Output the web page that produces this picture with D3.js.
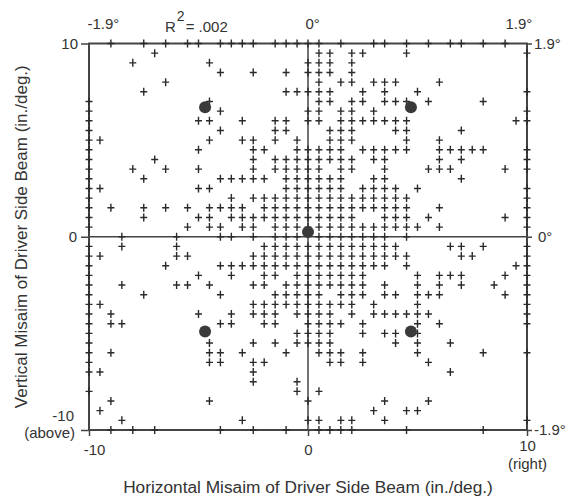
<!DOCTYPE html>
<html><head><meta charset="utf-8">
<script src="https://cdn.jsdelivr.net/npm/d3@7"></script>
<style>body{margin:0;background:#fff}svg{display:block}text{font-family:"Liberation Sans",Arial,Helvetica,sans-serif;fill:#333}</style>
</head><body>
<svg id="c" width="578" height="500"></svg>
<script>
// ---- DATA (inches; rows at Y, list of X) ----
const upperLeftRows = [
  [9.5,[-7]],[9,[-8,-4.5]],[8.5,[-4,-2.5,-1]],[8,[-6.5]],[7.5,[-7.5,-1,-0.5]],[7,[-4.5]],[6.5,[-4]],
  [6,[-5,-4.5,-3,-1.5,-1]],[5.5,[-4,-1.5,-1]],[5,[-9.5,-4.5,-3,-2.5,-1.5,-0.5]],[4.5,[-5,-2.5,-2,-0.5]],
  [4,[-7,-2.5,-1.5,-1,-0.5]],[3.5,[-8,-6.5,-5,-2.5,-1.5,-1,-0.5]],[3,[-7.5,-4,-3.5,-3,-2.5,-2,-1,-0.5]],
  [2.5,[-9.5,-5,-4.5,-1,-0.5]],[2,[-3.5,-2.5,-2,-1.5,-1,-0.5]],
  [1.5,[-9,-7.5,-6.5,-5.5,-4.5,-4,-3.5,-3,-2,-1.5,-1,-0.5]],[1,[-7.5,-5,-4.5,-3.5,-3,-2.5,-2,-1.5,-1,-0.5]],
  [0.5,[-5.5,-4.5,-4,-3,-2.5,-1.5,-1,-0.5]]
];
const upperRightRows = [
  [9.5,[0.5,1,2,2.5,4.5]],[9,[0.5,1,2]],[8.5,[0.5,1,2]],[8,[0.5,1.5,2,3,3.5,4,6]],[7.5,[0.5,1,2.5,3.5,5]],
  [7,[0.5,1,2,2.5,3.5,4,4.5,5.5,8]],[6.5,[0.5,1.5,2,3]],[6,[0.5,1.5,2,2.5,3,3.5,4,4.5,9.5]],
  [5.5,[1,1.5,2,4,4.5,7]],[5,[1,1.5,2,4.5,6]],[4.5,[0.5,1,1.5,2.5,3,3.5,4,4.5,6,6.5,7,7.5,8]],
  [4,[0.5,1,1.5,2,3,3.5,6,7]],[3.5,[0.5,1.5,2,3.5,5.5,6,6.5,9]],[3,[0.5,1,1.5,3,3.5,7]],
  [2.5,[0.5,1,1.5,2.5,3,3.5,4,5]],[2,[0.5,1,1.5,2,2.5,3,3.5,4,4.5]],[1.5,[0.5,1,1.5,2,2.5,3,3.5,4,4.5,6]],
  [1,[0.5,1,1.5,2,3.5,4,4.5,5.5,9]],[0.5,[0.5,1,1.5,2,2.5,3,3.5,4,4.5,5,6]]
];
const lowerLeftRows = [
  [-0.5,[-8.5,-6,-2,-1.5,-1,-0.5]],[-1,[-9.5,-6,-5.5,-2.5,-2,-1.5,-1,-0.5]],
  [-1.5,[-6.5,-4,-3.5,-3,-2.5,-2,-1.5,-1,-0.5]],[-2,[-5,-3.5,-2,-1.5,-0.5]],
  [-2.5,[-8.5,-6,-5.5,-4.5,-2.5,-2,-1,-0.5]],[-3,[-7.5,-4,-1.5,-1,-0.5]],[-3.5,[-9.5,-2.5,-2,-1.5,-1,-0.5]],
  [-4,[-9,-5,-3.5,-2.5,-2,-1.5,-0.5]],[-4.5,[-9,-8.5,-4,-3.5,-2,-1.5]],[-5,[-0.5]],
  [-5.5,[-4.5,-2.5,-1.5,-0.5]],[-6,[-9,-4.5,-4,-3,-1]],[-6.5,[-4.5,-4,-2.5,-2]],[-7,[-9.5,-2.5]],
  [-7.5,[-2.5,-0.5]],[-8,[-0.5]],[-8.5,[-9,-4.5]],[-9,[-9.5]],[-9.5,[-8.5,-3]]
];
const lowerRightRows = [
  [-0.5,[0.5,1,1.5,2,2.5,3,3.5,4,6.5,7,8]],[-1,[0.5,1,1.5,2,2.5,3,3.5,4,4.5,7,7.5]],
  [-1.5,[0.5,1,1.5,2,2.5,3,3.5,4.5,9.5]],[-2,[0.5,1,1.5,2,2.5,5,6,6.5,7,9]],
  [-2.5,[0.5,1,1.5,2,2.5,3.5,5,6,7,8.5]],[-3,[0.5,1.5,2,2.5,3.5,4,5,5.5,6,9]],[-3.5,[0.5,1,1.5,2,3,5]],
  [-4,[0.5,1,2,3,3.5,4,4.5,5,5.5]],[-4.5,[0.5,1,1.5,2.5,5,6]],[-5,[0.5,1,2.5,3.5,4,5]],
  [-5.5,[0.5,1,4,5,6.5]],[-6,[0.5,1,1.5,2.5,5,8]],[-6.5,[1,1.5,2.5,5.5]],[-7,[6.5]],[-8,[0.5]],
  [-8.5,[3.5,5.5]],[-9,[3,4.5,5]],[-9.5,[0.5,1.5,2,3.5]]
];
const onHorizontalZeroX = [-8.5,-6,-4,-3.5,-2.5,-1.5,-1,-0.5,0.5,1,1.5,2,2.5,3,3.5,4.5];
const onVerticalZeroY = [9,8.5,7.5,6.5,6,4.5,4,3.5,3,2.5,2,1.5,1,0.5,-0.5,-1,-1.5,-2,-2.5,-3,-3.5,-4,-4.5,-5,-5.5,-8.5,-9.5];
const onTopEdgeX = [-9,-7.5,-6.5,-5.5,-5,-4,-3.5,-3,-2.5,-1.5,-1,-0.5,0,0.5,1.5,3,3.5,4.5,5.5,6.5,7,8,9];
const onBottomEdgeX = [-9,-8,-7,-4,-2.5,-1,0.5,1,1.5,2,4.5,8];
const onLeftEdgeY = [7,6.5,6,5.5,5,4.5,4,3.5,3,2.5,2,1.5,1,0.5,-0.5,-1,-1.5,-2,-2.5,-3,-3.5,-4,-4.5,-5,-5.5,-6,-6.5,-7,-8];
const onRightEdgeY = [9.5,7.5,6.5,6,4.5,4,3.5,2.5,2,1.5,1,0.5,-0.5,-1,-1.5,-2,-2.5,-3,-3.5,-4,-4.5,-6,-9.5];
const aimDots = [[-4.7,6.7],[4.7,6.7],[-4.7,-4.9],[4.7,-4.9],[0,0.25]];
const leftTicks = [10,0,-10];
const bottomTicks = [-10,0,10];
const degTicks = [-1.9,0,1.9];
const rSquared = ".002";

// ---- CHART ----
const svg = d3.select("#c");
const x = d3.scaleLinear().domain([-10,10]).range([89,527]);
const y = d3.scaleLinear().domain([-10,10]).range([430,43.5]);
const xDeg = d3.scaleLinear().domain([-1.9,1.9]).range([89,527]);
const yDeg = d3.scaleLinear().domain([-1.9,1.9]).range([430,43.5]);
const ink = "#444";
const FS = "15px";

const pts = [];
[upperLeftRows,upperRightRows,lowerLeftRows,lowerRightRows].forEach(rows=>rows.forEach(([yy,xs])=>xs.forEach(xx=>pts.push([xx,yy]))));
onHorizontalZeroX.forEach(v=>pts.push([v,0]));
onVerticalZeroY.forEach(v=>pts.push([0,v]));
onTopEdgeX.forEach(v=>pts.push([v,10]));
onBottomEdgeX.forEach(v=>pts.push([v,-10]));
onLeftEdgeY.forEach(v=>pts.push([-10,v]));
onRightEdgeY.forEach(v=>pts.push([10,v]));

// frame
svg.append("rect").attr("x",x(-10)).attr("y",y(10)).attr("width",x(10)-x(-10)).attr("height",y(-10)-y(10))
  .attr("fill","none").attr("stroke",ink).attr("stroke-width",2);
svg.append("line").attr("x1",x(-10)).attr("x2",x(10)).attr("y1",y(0)).attr("y2",y(0)).attr("stroke",ink).attr("stroke-width",1.5);
svg.append("line").attr("x1",x(0)).attr("x2",x(0)).attr("y1",y(10)).attr("y2",y(-10)).attr("stroke",ink).attr("stroke-width",1.5);

function styleAxis(g){g.select(".domain").remove();g.selectAll(".tick line").attr("stroke",ink).attr("stroke-width",1.5);
  g.selectAll(".tick text").style("font-family",'"Liberation Sans",Arial,sans-serif').attr("fill","#333").style("font-size",FS);}

// left axis
const gl = svg.append("g").attr("transform",`translate(${x(-10)},0)`)
  .call(d3.axisLeft(y).tickValues(leftTicks).tickSize(8).tickPadding(3).tickFormat(d=>d)).call(styleAxis);
gl.selectAll(".tick").filter(d=>d===-10).select("text").attr("dy",null).attr("y",-10).attr("x",-15);
gl.selectAll(".tick").filter(d=>d===-10).append("text").attr("x",-14).attr("y",7).attr("text-anchor","end")
  .style("font-size",FS).attr("fill","#333").text("(above)");
gl.selectAll(".tick").filter(d=>d===0).select("text").attr("x",-12);
gl.selectAll(".tick").filter(d=>d===10).select("text").attr("x",-11);
// bottom axis
const gb = svg.append("g").attr("transform",`translate(0,${y(-10)})`)
  .call(d3.axisBottom(x).tickValues(bottomTicks).tickSize(6).tickPadding(8).tickFormat(d=>d)).call(styleAxis);
gb.selectAll(".tick").filter(d=>d===-10).select("text").attr("dx","5");
gb.selectAll(".tick").filter(d=>d===10).select("text").attr("y",10);
gb.selectAll(".tick").filter(d=>d===10).append("text").attr("y",39).attr("text-anchor","middle")
  .style("font-size",FS).attr("fill","#333").text("(right)");
// right axis (degrees)
const gr = svg.append("g").attr("transform",`translate(${x(10)},0)`)
  .call(d3.axisRight(yDeg).tickValues(degTicks).tickSize(5).tickPadding(2).tickFormat(d=>(d===0?"0":d)+"°")).call(styleAxis);
gr.selectAll(".tick").filter(d=>d===0).select("text").attr("x",11);
// top axis (degrees)
const gt = svg.append("g").attr("transform",`translate(0,${y(10)})`)
  .call(d3.axisTop(xDeg).tickValues(degTicks).tickSize(0).tickPadding(14.5).tickFormat(d=>(d===0?"0":d)+"°")).call(styleAxis);
gt.selectAll(".tick text").attr("text-anchor","start").attr("dx",d=>d<0?-2:d===0?-3:-22);

// R^2
const rt = svg.append("text").attr("x",165).attr("y",32).style("font-size",FS);
rt.append("tspan").text("R");
rt.append("tspan").attr("dy",-11).attr("dx",1).style("font-size","14px").text("2");
rt.append("tspan").attr("dy",11).attr("dx",1).text("= "+rSquared);

// titles
svg.append("text").attr("x",x(0)).attr("y",493).attr("text-anchor","middle").style("font-size","17.3px")
  .text("Horizontal Misaim of Driver Side Beam (in./deg.)");
svg.append("text").attr("transform",`translate(27,${y(0)}) rotate(-90)`).attr("text-anchor","middle").style("font-size","17px")
  .text("Vertical Misaim of Driver Side Beam (in./deg.)");

// plus marks
svg.append("g").selectAll("path").data(pts).join("path")
  .attr("transform",d=>`translate(${x(d[0])},${y(d[1])})`)
  .attr("d","M-3.5,0H3.5M0,-4V4").attr("stroke","#2a2a2a").attr("stroke-width",1.4).attr("fill","none");
// aim dots
svg.append("g").selectAll("circle").data(aimDots).join("circle")
  .attr("cx",d=>x(d[0])).attr("cy",d=>y(d[1])).attr("r",6).attr("fill","#3a3a3a");
</script>
</body></html>
